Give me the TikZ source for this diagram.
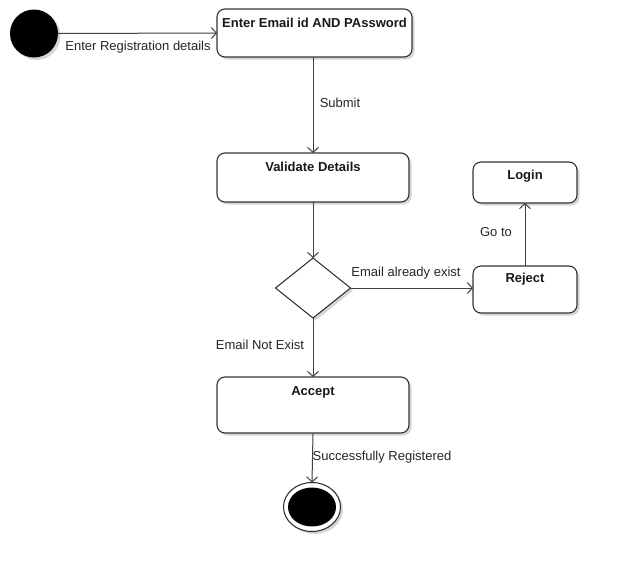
\documentclass[tikz,border=0pt]{standalone}
\usepackage{fontspec}
\setmainfont{Liberation Sans}
\usetikzlibrary{arrows.meta,shapes.geometric,shadows}
\begin{document}
\begin{tikzpicture}[x=1pt,y=-1pt,
  shd/.style={drop shadow={shadow xshift=2.5pt,shadow yshift=-2.5pt,opacity=0.16,fill=black}},
  box/.style={draw=black!80, line width=1.1pt, rounded corners=8pt, fill=white, shd, inner sep=0pt, outer sep=0pt},
  ttl/.style={font=\bfseries\fontsize{13}{13}\selectfont, text=black!90, text height=9.4pt, text depth=0pt, inner sep=0pt},
  lbl/.style={font=\fontsize{13}{13}\selectfont, text=black!85, text height=9.4pt, text depth=0pt, inner sep=0pt},
  edge/.style={draw=black!75, line width=1pt, -{Straight Barb[length=5pt,width=11pt]}}]
\useasboundingbox[fill=white] (0,0) rectangle (617,570);

% initial node
\node[circle, fill=black, minimum size=48pt, inner sep=0pt, outer sep=0pt, shd] (start) at (34,33.5) {};

% boxes
\node[box, minimum width=195pt, minimum height=48pt] (b1) at (314.5,33) {};
\node[ttl] (b1t) at (314.5,23) {Enter Email id AND PAssword};

\node[box, minimum width=192pt, minimum height=49pt] (b2) at (313,177.5) {};
\node[ttl] (b2t) at (313,167) {Validate Details};

\node[diamond, draw=black!85, line width=1pt, fill=white, minimum width=75pt, minimum height=60pt, inner sep=0pt, outer sep=0pt, aspect=1.25, shd] (dia) at (313,288) {};

\node[box, minimum width=104pt, minimum height=47pt] (rej) at (525,289.5) {};
\node[ttl] (rejt) at (525,278) {Reject};

\node[box, minimum width=104pt, minimum height=41pt] (log) at (525,182.5) {};
\node[ttl] (logt) at (525,175) {Login};

\node[box, minimum width=192pt, minimum height=56pt] (acc) at (313,405) {};
\node[ttl] (acct) at (313,391) {Accept};

% final node
\node[ellipse, draw=black!85, line width=1pt, fill=white, minimum width=57pt, minimum height=49pt, inner sep=0pt, outer sep=0pt, shd] (fin) at (312,507) {};
\node[ellipse, fill=black, minimum width=48pt, minimum height=39pt, inner sep=0pt] (finin) at (312,507) {};

% connectors
\draw[edge] (start.east) -- (b1.west);
\node[lbl] (l1) at (138,46) {Enter Registration details};

\draw[edge] (b2.north |- b1.south) -- (b2.north);
\node[lbl] (l2) at (340,103) {Submit};

\draw[edge] (b2.south) -- (dia.north);

\draw[edge] (dia.east) -- (dia.east -| rej.west);
\node[lbl] (l3) at (406,272) {Email already exist};

\draw[edge] (rej.north) -- (log.south);
\node[lbl] (l4) at (496,232) {Go to};

\draw[edge] (dia.south) -- (acc.north);
\node[lbl] (l5) at (260,345) {Email Not Exist};

\draw[edge] (acc.south) -- (fin.north);
\node[lbl] (l6) at (382,456) {Successfully Registered};
\end{tikzpicture}
\end{document}
